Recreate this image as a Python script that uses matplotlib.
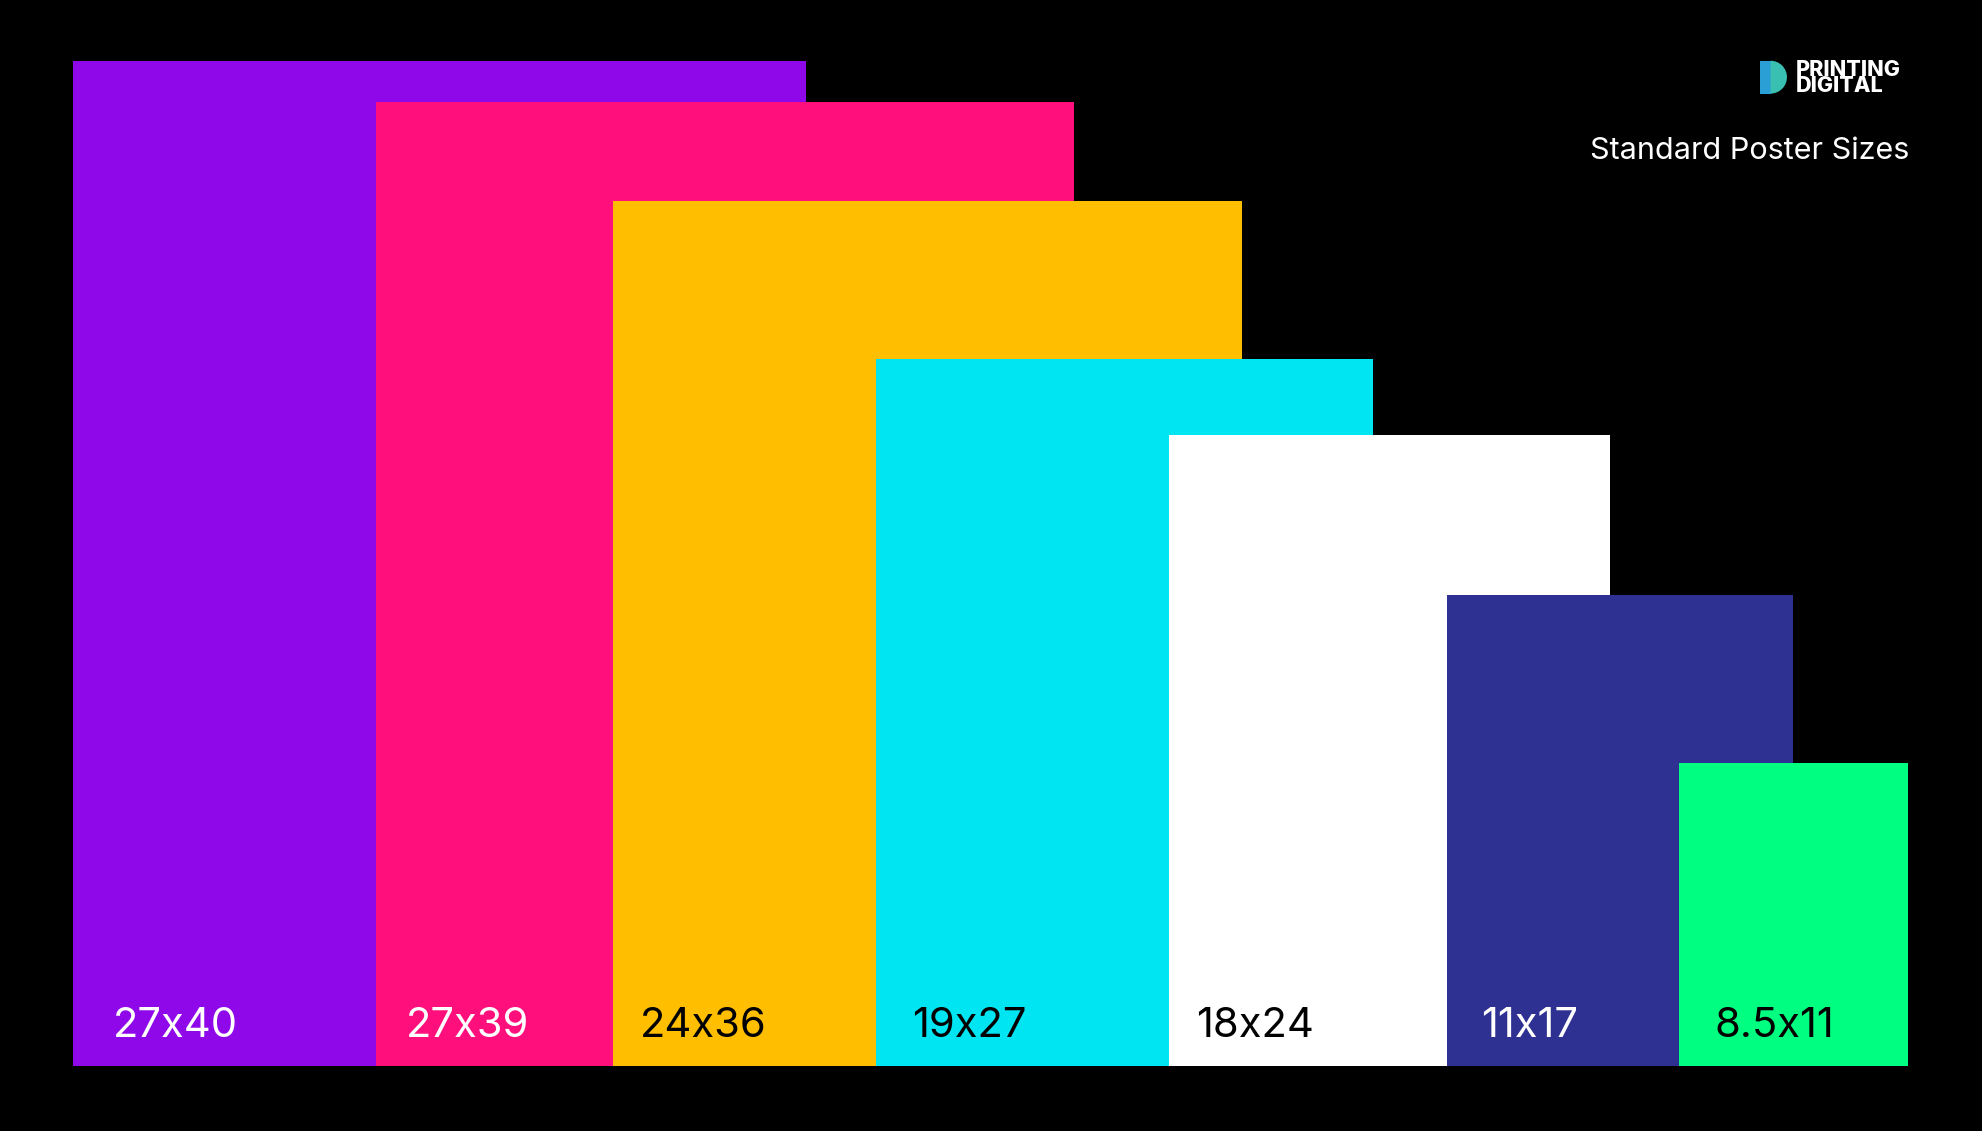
import matplotlib.pyplot as plt
from matplotlib.patches import Rectangle, Wedge

# poster sizes, drawn as overlapping rectangles (units: reference pixels)
labels = ["27x40", "27x39", "24x36", "19x27", "18x24", "11x17", "8.5x11"]
lefts = [58, 297, 485, 693, 924, 1144, 1328]
widths = [579, 552, 497, 393, 349, 274, 181]
heights = [795, 762, 684, 559, 499, 373, 240]
colors = ["#8e08ea", "#ff0f7b", "#ffbe00", "#00e5f2", "#ffffff", "#2e3192", "#00ff80"]
text_colors = ["white", "white", "black", "black", "black", "white", "black"]
label_offsets = [31, 24, 21, 28, 22, 27, 28]

W, H = 1568, 894
BASE = 51

fig = plt.figure(figsize=(19.83, 11.31), dpi=100, facecolor="black")
ax = fig.add_axes([0, 0, 1, 1])
ax.set_facecolor("black")
ax.set_xlim(0, W)
ax.set_ylim(0, H)
ax.axis("off")

for lab, x, w, h, c, tc, off in zip(labels, lefts, widths, heights, colors, text_colors, label_offsets):
    ax.add_patch(Rectangle((x, BASE), w, h, facecolor=c, edgecolor="none"))
    ax.text(x + off, BASE + 32, lab, color=tc, fontsize=30, family="Inter",
            va="center", ha="left")

# logo
ax.add_patch(Rectangle((1392, 820), 8, 26, facecolor="#2a9fd6", edgecolor="none"))
ax.add_patch(Wedge((1400, 833), 13, -90, 90, facecolor="#39c0b0", edgecolor="none"))
ax.text(1420, 839, "PRINTING", color="white", fontsize=15.5, fontweight="heavy",
        family="Inter", va="center", ha="left")
ax.text(1420, 826, "DIGITAL", color="white", fontsize=15.5, fontweight="heavy",
        family="Inter", va="center", ha="left")

ax.text(1510, 775, "Standard Poster Sizes", color="white", fontsize=22,
        family="Inter", va="center", ha="right")

fig.savefig("out.png", dpi=100, facecolor="black")
